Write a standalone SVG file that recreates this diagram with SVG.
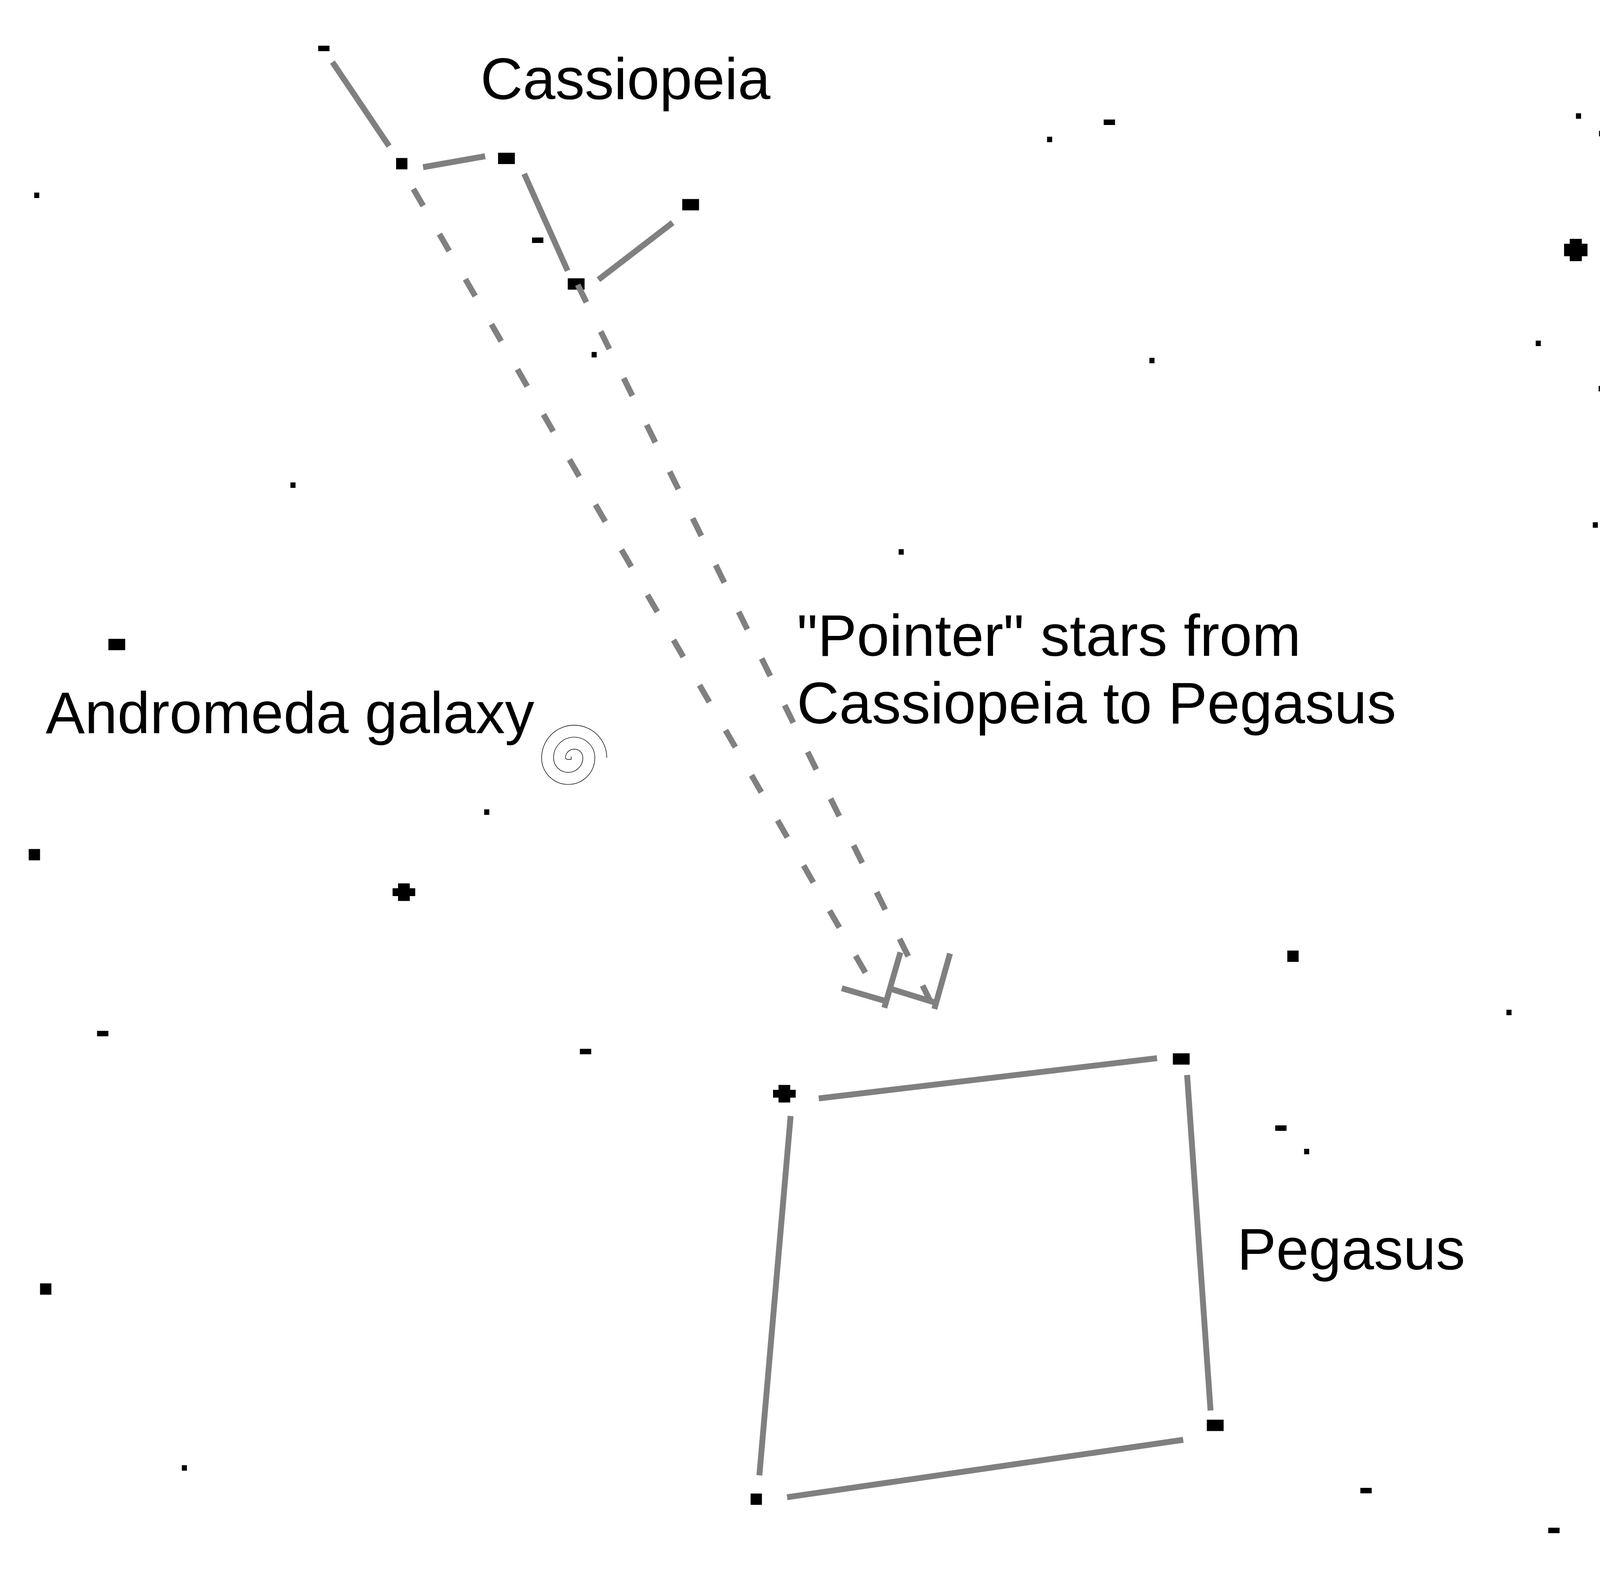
<svg xmlns="http://www.w3.org/2000/svg" width="4200" height="4050" viewBox="0 0 4200 4050">
<style>
.lbl{font-family:"Liberation Sans",Arial,sans-serif;font-size:150px;fill:#000}
.ln{stroke:#808080;stroke-width:15;fill:none;stroke-linecap:butt}
.dsh{stroke:#808080;stroke-width:15;fill:none;stroke-linecap:butt;stroke-dasharray:50 83.3}
.st{fill:#000}
.gal{stroke:#000;stroke-width:1.4;fill:none}
</style>
<defs>
<g id="dot"><rect class="st" x="-6.5" y="-7" width="13" height="14"/></g>
<g id="dash"><rect class="st" x="-14.5" y="-7" width="29" height="14"/></g>
<g id="sq"><rect class="st" x="-14.5" y="-14.5" width="29" height="29"/></g>
<g id="rc"><rect class="st" x="-21.5" y="-14.5" width="43" height="29"/></g>
<g id="plus"><rect class="st" x="-29" y="-10" width="58" height="20"/><rect class="st" x="-15" y="-22.5" width="30" height="45"/></g>
<g id="bigplus"><rect class="st" x="-30" y="-16" width="60" height="32"/><rect class="st" x="-15.5" y="-28.5" width="31" height="57"/></g>
</defs>
<rect x="0" y="0" width="4200" height="4050" fill="#fff"/>

<g id="stars">
<g id="cas-1"><use href="#dash" x="829" y="124"/></g>
<g id="cas-2"><use href="#sq" x="1028.5" y="419"/></g>
<g id="cas-3"><use href="#rc" x="1296.5" y="405.5"/></g>
<g id="cas-4"><use href="#rc" x="1768" y="524"/></g>
<g id="cas-5"><use href="#rc" x="1475" y="727"/></g>
<g id="peg-1"><use href="#plus" x="2008" y="2800"/></g>
<g id="peg-2"><use href="#rc" x="3024" y="2711"/></g>
<g id="peg-3"><use href="#rc" x="3111" y="3649"/></g>
<g id="peg-4"><use href="#sq" x="1936" y="3838"/></g>
<g id="star-5"><use href="#dash" x="1376.5" y="615"/></g>
<g id="star-7"><use href="#dot" x="1521" y="908"/></g>
<g id="star-8"><use href="#dot" x="94" y="500"/></g>
<g id="star-9"><use href="#dot" x="750" y="1242"/></g>
<g id="star-10"><use href="#dash" x="2840" y="313"/></g>
<g id="star-11"><use href="#dot" x="2687" y="357"/></g>
<g id="star-12"><use href="#dot" x="4041" y="297"/></g>
<g id="star-13"><use href="#dot" x="4100" y="342"/></g>
<g id="star-14"><use href="#bigplus" x="4034" y="640"/></g>
<g id="star-15"><use href="#dot" x="3938" y="879"/></g>
<g id="star-16"><use href="#dot" x="2949" y="923"/></g>
<g id="star-17"><use href="#dot" x="4099" y="995"/></g>
<g id="star-18"><use href="#dot" x="4084" y="1344"/></g>
<g id="star-19"><use href="#dot" x="2307" y="1413"/></g>
<g id="star-20"><use href="#rc" x="299" y="1650"/></g>
<g id="star-21"><use href="#dot" x="1246" y="2079"/></g>
<g id="star-22"><use href="#sq" x="88" y="2188"/></g>
<g id="star-23"><use href="#plus" x="1034" y="2284"/></g>
<g id="star-24"><use href="#dash" x="263" y="2646"/></g>
<g id="star-25"><use href="#dash" x="1499" y="2692"/></g>
<g id="star-27"><use href="#sq" x="117" y="3300"/></g>
<g id="star-28"><use href="#dot" x="472" y="3758"/></g>
<g id="star-30"><use href="#sq" x="3310" y="2448"/></g>
<g id="star-32"><use href="#dash" x="3279" y="2888"/></g>
<g id="star-33"><use href="#dot" x="3345" y="2948"/></g>
<g id="star-35"><use href="#dash" x="3497" y="3816"/></g>
<g id="star-36"><use href="#dash" x="3978" y="3918"/></g>
<g id="star-37"><use href="#dot" x="3863" y="2592"/></g>
</g>

<g id="andromeda-galaxy">
<path class="gal" d="M1462.3,1936.7 L1462.3,1944 L1453.3,1944 Q1447.7,1943 1447.7,1940 A22.25 22.25 0 0 1 1492.2,1940 A37.55 37.55 0 0 1 1417.1,1940 A52.85 52.85 0 0 1 1522.8,1940 A68.15 68.15 0 0 1 1386.5,1940 A83.45 83.45 0 0 1 1553.4,1940"/>
</g>

<g id="connectors">
<line class="ln" x1="851" y1="159" x2="996" y2="374"/>
<line class="ln" x1="1083" y1="428" x2="1242" y2="400"/>
<line class="ln" x1="1342" y1="445" x2="1453" y2="693"/>
<line class="ln" x1="1722" y1="570" x2="1532" y2="716"/>
<line class="ln" x1="2096" y1="2812" x2="2962" y2="2709"/>
<line class="ln" x1="3039" y1="2752" x2="3099" y2="3611"/>
<line class="ln" x1="3029" y1="3686" x2="2015" y2="3833"/>
<line class="ln" x1="1944" y1="3777" x2="2024" y2="2857"/>
<line class="dsh" x1="1058.3" y1="483.7" x2="2217.1" y2="2493.1"/>
<line class="dsh" x1="1479" y1="729" x2="2382" y2="2564"/>
<line class="ln" x1="2155" y1="2530" x2="2268" y2="2563"/>
<line class="ln" x1="2305" y1="2438" x2="2264" y2="2580"/>
<line class="ln" x1="2285" y1="2533" x2="2395" y2="2567"/>
<line class="ln" x1="2432" y1="2441" x2="2392" y2="2583"/>
</g>

<g id="labels">
<text class="lbl" x="1230" y="254">Cassiopeia</text>
<text class="lbl" x="117" y="1877">Andromeda galaxy</text>
<text class="lbl" x="2040" y="1679">"Pointer" stars from</text>
<text class="lbl" x="2040" y="1852">Cassiopeia to Pegasus</text>
<text class="lbl" x="3167" y="3250">Pegasus</text>
</g>
</svg>
